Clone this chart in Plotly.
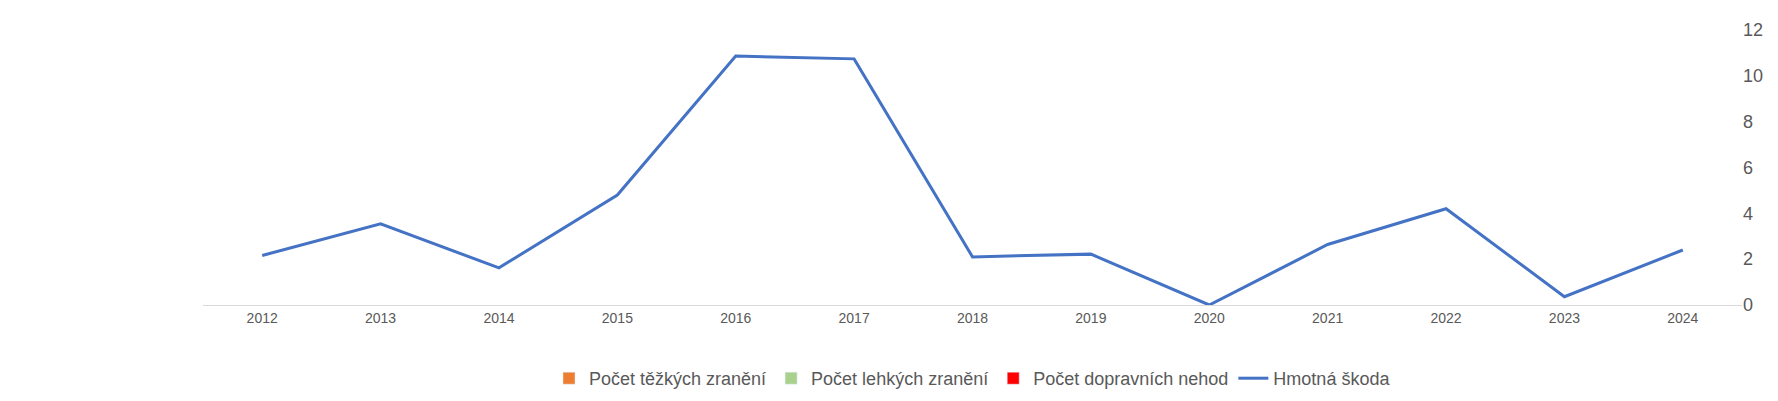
import plotly.graph_objects as go

years = ["2012","2013","2014","2015","2016","2017","2018","2019","2020","2021","2022","2023","2024"]
tezka = [1,1,0,0,2,0,0,1,0,0,2,0,0]
lehka = [0,6,1,1,1,0,0,0,0,0,0,1,2]
nehody = [3,7,3,7,11,7,2,2,0,1,2,1,1]
skoda = [180,295,135,400,905,895,175,185,0,220,350,30,200]
left_ticks = [0,250,500,750,1000]
left_text = ["<b>0 Kč</b>","<b>250 Kč</b>","<b>500 Kč</b>","<b>750 Kč</b>","<b>1 000 Kč</b>"]

fig = go.Figure()
fig.add_bar(x=years, y=tezka, name="Počet těžkých zranění", marker_color="#ED7D31", yaxis="y2")
fig.add_bar(x=years, y=lehka, name="Počet lehkých zranění", marker_color="#A9D18E", yaxis="y2")
fig.add_bar(x=years, y=nehody, name="Počet dopravních nehod", marker_color="#FF0000", yaxis="y2")
fig.add_scatter(x=years, y=skoda, name="Hmotná škoda", mode="lines",
                line=dict(color="#4472C4", width=3), yaxis="y3")
fig.update_layout(
    width=1778, height=401, plot_bgcolor="white", paper_bgcolor="white",
    font=dict(family="Liberation Sans, Arial", color="#595959"),
    margin=dict(l=195, r=44, t=16, b=97),
    barmode="group", bargap=0.45, bargroupgap=0,
    xaxis=dict(tickfont=dict(size=14), showline=True, linecolor="#D9D9D9"),
    yaxis=dict(range=[0,1000], tickvals=left_ticks, ticktext=left_text,
               tickfont=dict(size=21, color="#595959"), showgrid=True, gridcolor="#D9D9D9",
               title=dict(text="<b>Tisíce</b>", font=dict(size=23, color="#595959"), standoff=20),
               zeroline=False),
    yaxis2=dict(range=[0,12], dtick=2, overlaying="y", side="right", showgrid=False,
                tickfont=dict(size=18), zeroline=False),
    yaxis3=dict(range=[0,1000], overlaying="y", visible=False),
    legend=dict(orientation="h", x=0.5, xanchor="center", y=-0.2, yanchor="top",
                font=dict(size=18, color="#595959"), traceorder="normal"),
)
fig.write_html("out.html")
